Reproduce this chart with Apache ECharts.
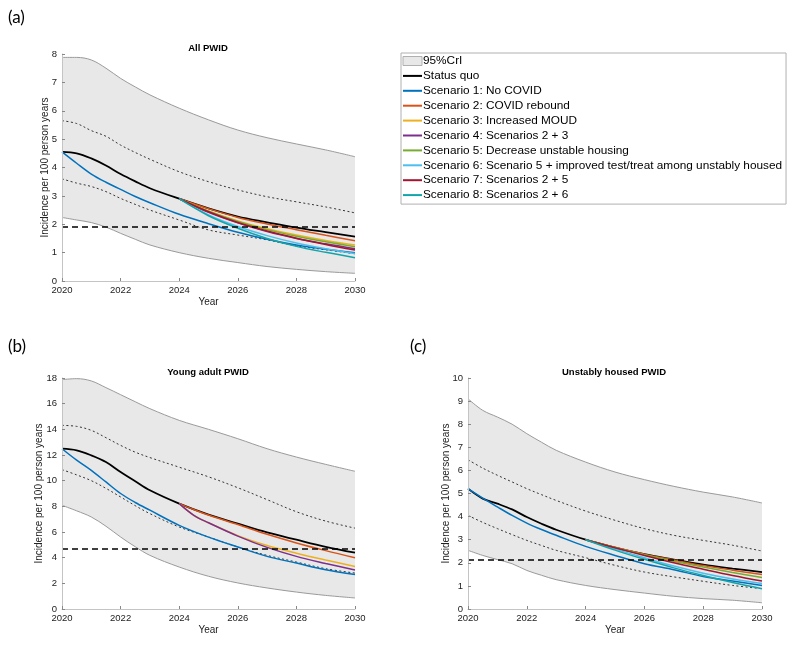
<!DOCTYPE html>
<html>
<head>
<meta charset="utf-8">
<script src="https://cdn.jsdelivr.net/npm/echarts@6/dist/echarts.min.js"></script>
<style>
  html, body { margin: 0; padding: 0; background: #fff; }
  #chart { width: 800px; height: 646px; }
</style>
</head>
<body>
<div id="chart"></div>
<script>
const years = [2020, 2020.5, 2021, 2021.5, 2022, 2022.5, 2023, 2024, 2025, 2026, 2027, 2028, 2029, 2030]
const scenYearsA = [2024, 2025, 2026, 2027, 2028, 2029, 2030]
const scenYearsB = [2024, 2024.5, 2025, 2026, 2027, 2028, 2029, 2030]
const scenYearsC = [2024, 2025, 2026, 2027, 2028, 2029, 2030]

// (a) All PWID
const upperA = [7.88, 7.88, 7.79, 7.50, 7.14, 6.84, 6.56, 6.09, 5.68, 5.32, 5.05, 4.83, 4.62, 4.38]
const lowerA = [2.24, 2.15, 2.06, 1.90, 1.68, 1.47, 1.27, 1.00, 0.80, 0.65, 0.51, 0.41, 0.33, 0.27]
const dotHiA = [5.65, 5.55, 5.30, 5.10, 4.79, 4.53, 4.29, 3.85, 3.50, 3.21, 2.97, 2.79, 2.61, 2.40]
const dotLoA = [3.60, 3.45, 3.33, 3.15, 2.91, 2.70, 2.50, 2.15, 1.80, 1.62, 1.45, 1.24, 1.10, 0.96]
const sqA = [4.55, 4.50, 4.32, 4.07, 3.77, 3.51, 3.27, 2.90, 2.56, 2.27, 2.07, 1.88, 1.72, 1.56]
const s1A = [4.55, 4.15, 3.77, 3.48, 3.23, 2.98, 2.76, 2.35, 2.02, 1.72, 1.47, 1.27, 1.12, 1.00]
const s2A = [2.90, 2.55, 2.24, 2.01, 1.81, 1.61, 1.42]
const s3A = [2.90, 2.47, 2.12, 1.84, 1.62, 1.43, 1.27]
const s4A = [2.90, 2.42, 2.05, 1.74, 1.50, 1.31, 1.14]
const s5A = [2.90, 2.46, 2.10, 1.81, 1.58, 1.38, 1.21]
const s6A = [2.90, 2.33, 1.92, 1.60, 1.34, 1.14, 0.97]
const s7A = [2.90, 2.44, 2.06, 1.76, 1.51, 1.29, 1.09]
const s8A = [2.90, 2.30, 1.86, 1.50, 1.22, 1.01, 0.82]
const targetA = 1.92

// (b) Young adult PWID
const upperB = [17.87, 17.95, 17.77, 17.25, 16.70, 16.15, 15.61, 14.70, 14.00, 13.27, 12.49, 11.84, 11.27, 10.73]
const lowerB = [8.08, 7.65, 7.17, 6.45, 5.61, 4.85, 4.18, 3.27, 2.55, 2.03, 1.64, 1.32, 1.06, 0.86]
const dotHiB = [14.31, 14.23, 13.92, 13.35, 12.75, 12.22, 11.80, 11.05, 10.30, 9.45, 8.52, 7.58, 6.85, 6.30]
const dotLoB = [10.86, 10.45, 10.00, 9.40, 8.73, 8.05, 7.43, 6.39, 5.61, 4.83, 4.18, 3.66, 3.14, 2.80]
const sqB = [12.49, 12.36, 11.97, 11.45, 10.67, 9.95, 9.25, 8.21, 7.35, 6.65, 5.97, 5.40, 4.85, 4.39]
const s1B = [12.49, 11.60, 10.80, 9.90, 9.00, 8.30, 7.70, 6.52, 5.60, 4.83, 4.10, 3.58, 3.06, 2.68]
const s2B = [8.21, 7.75, 7.32, 6.58, 5.82, 5.15, 4.55, 4.00]
const s3B = [8.21, 7.30, 6.72, 5.72, 4.95, 4.35, 3.82, 3.32]
const s4B = [8.21, 7.30, 6.72, 5.68, 4.80, 4.10, 3.55, 3.04]
const targetB = 4.68

// (c) Unstably housed PWID
const upperC = [9.10, 8.60, 8.31, 8.00, 7.59, 7.22, 6.87, 6.36, 5.93, 5.60, 5.31, 5.06, 4.85, 4.59]
const lowerC = [2.54, 2.32, 2.14, 1.96, 1.67, 1.46, 1.27, 1.02, 0.84, 0.69, 0.55, 0.45, 0.38, 0.27]
const dotHiC = [6.46, 6.10, 5.79, 5.50, 5.21, 4.95, 4.70, 4.24, 3.84, 3.48, 3.19, 2.97, 2.76, 2.51]
const dotLoC = [4.05, 3.75, 3.48, 3.22, 2.97, 2.75, 2.54, 2.22, 1.89, 1.60, 1.39, 1.20, 1.02, 0.88]
const sqC = [5.21, 4.78, 4.56, 4.31, 3.98, 3.69, 3.43, 3.00, 2.66, 2.37, 2.14, 1.92, 1.75, 1.60]
const s1C = [5.21, 4.80, 4.42, 4.05, 3.72, 3.44, 3.19, 2.71, 2.32, 1.96, 1.70, 1.41, 1.21, 1.02]
const s2C = [3.00, 2.67, 2.37, 2.12, 1.88, 1.68, 1.49]
const s5C = [3.00, 2.66, 2.35, 2.07, 1.82, 1.58, 1.36]
const s6C = [3.00, 2.60, 2.22, 1.86, 1.55, 1.30, 1.10]
const s7C = [3.00, 2.65, 2.32, 2.00, 1.72, 1.45, 1.21]
const s8C = [3.00, 2.55, 2.15, 1.78, 1.45, 1.15, 0.88]
const targetC = 2.15

const NAMES = [
  'Status quo',
  'Scenario 1: No COVID',
  'Scenario 2: COVID rebound',
  'Scenario 3: Increased MOUD',
  'Scenario 4: Scenarios 2 + 3',
  'Scenario 5: Decrease unstable housing',
  'Scenario 6: Scenario 5 + improved test/treat among unstably housed',
  'Scenario 7: Scenarios 2 + 5',
  'Scenario 8: Scenarios 2 + 6',
]
const COLORS = ['#000000', '#0072BD', '#D95319', '#EDB120', '#7E2F8E', '#77AC30', '#4DBEEE', '#A2142F', '#12A4A8']
const FONT = '"Liberation Sans", Arial, sans-serif'
const BAND_FILL = '#e8e8e8'
const BAND_EDGE = '#9a9a9a'

const zip = (xs, ys) => xs.map((x, i) => [x, ys[i]])

function line(idx, name, xs, ys, color, extra) {
  return Object.assign({
    name, type: 'line', xAxisIndex: idx, yAxisIndex: idx,
    data: zip(xs, ys), symbol: 'none', smooth: 0.35,
    lineStyle: { color, width: 1.5 }, itemStyle: { color }, silent: true,
  }, extra || {})
}

function panel(idx, p) {
  const dotted = { color: '#333', width: 1, type: [2, 2.5] }
  const out = [
    // grey band: fill under the upper edge, then white under the lower edge
    line(idx, '95%CrI', years, p.upper, BAND_EDGE, {
      lineStyle: { color: BAND_EDGE, width: 1 },
      areaStyle: { color: BAND_FILL, opacity: 1 }, itemStyle: { color: BAND_FILL },
    }),
    line(idx, 'lo' + idx, years, p.lower, BAND_EDGE, {
      lineStyle: { color: BAND_EDGE, width: 1 },
      areaStyle: { color: '#ffffff', opacity: 1 },
    }),
    line(idx, 'hi50_' + idx, years, p.dotHi, '#333', { lineStyle: dotted }),
    line(idx, 'lo50_' + idx, years, p.dotLo, '#333', { lineStyle: dotted }),
    line(idx, NAMES[0], years, p.sq, COLORS[0], { lineStyle: { color: COLORS[0], width: 1.8 } }),
    line(idx, NAMES[1], years, p.s1, COLORS[1]),
  ]
  p.scen.forEach(([k, ys]) => out.push(line(idx, NAMES[k], p.scenYears, ys, COLORS[k])))
  out.push({
    type: 'line', name: 'target' + idx, xAxisIndex: idx, yAxisIndex: idx, data: [], silent: true,
    markLine: {
      symbol: 'none', silent: true, label: { show: false },
      lineStyle: { color: '#000', width: 1.5, type: [6, 4] },
      data: [{ yAxis: p.target }],
    },
  })
  return out
}

const grids = [
  { left: 62, top: 54, width: 293, height: 227 },
  { left: 62, top: 378, width: 293, height: 231 },
  { left: 468, top: 378, width: 294, height: 231 },
]

const xAxis = grids.map((g, i) => ({
  type: 'value', gridIndex: i, min: 2020, max: 2030, interval: 2, z: 10,
  name: 'Year', nameLocation: 'middle', nameGap: 16,
  nameTextStyle: { fontSize: 10, color: '#222', fontFamily: FONT },
  axisLine: { lineStyle: { color: '#c4c4c4' } },
  axisTick: { inside: true, length: 3, lineStyle: { color: '#888' } },
  axisLabel: { fontSize: 9.5, color: '#222', margin: 4, fontFamily: FONT, formatter: v => String(v) },
  splitLine: { show: false },
}))

const yRanges = [[8, 1, 12], [18, 2, 18], [10, 1, 17]]
const yAxis = yRanges.map(([max, interval, gap], i) => ({
  type: 'value', gridIndex: i, min: 0, max, interval, z: 10,
  name: 'Incidence per 100 person years', nameLocation: 'middle', nameGap: gap, nameMoveOverlap: false,
  nameTextStyle: { fontSize: 10, color: '#222', fontFamily: FONT },
  axisLine: { show: true, lineStyle: { color: '#c4c4c4' } },
  axisTick: { show: true, inside: true, length: 3, lineStyle: { color: '#888' } },
  axisLabel: { fontSize: 9.5, color: '#222', margin: 5, fontFamily: FONT },
  splitLine: { show: false },
}))

const series = [
  ...panel(0, { upper: upperA, lower: lowerA, dotHi: dotHiA, dotLo: dotLoA, sq: sqA, s1: s1A,
    scenYears: scenYearsA, scen: [[2, s2A], [3, s3A], [4, s4A], [5, s5A], [6, s6A], [7, s7A], [8, s8A]], target: targetA }),
  ...panel(1, { upper: upperB, lower: lowerB, dotHi: dotHiB, dotLo: dotLoB, sq: sqB, s1: s1B,
    scenYears: scenYearsB, scen: [[2, s2B], [3, s3B], [4, s4B]], target: targetB }),
  ...panel(2, { upper: upperC, lower: lowerC, dotHi: dotHiC, dotLo: dotLoC, sq: sqC, s1: s1C,
    scenYears: scenYearsC, scen: [[2, s2C], [5, s5C], [6, s6C], [7, s7C], [8, s8C]], target: targetC }),
]

const titles = [['All PWID', 208, 48], ['Young adult PWID', 208, 372], ['Unstably housed PWID', 614, 372]]
const panelLabels = [['(a)', 8, 18], ['(b)', 8, 347], ['(c)', 410, 347]]

const chart = echarts.init(document.getElementById('chart'), null, { renderer: 'canvas' })
chart.setOption({
  animation: false,
  backgroundColor: '#fff',
  grid: grids,
  xAxis,
  yAxis,
  legend: {
    left: 401, top: 53, orient: 'vertical',
    padding: [2, 4, 3, 1], itemGap: 2.9, itemWidth: 19, itemHeight: 9,
    borderColor: '#b0b0b0', borderWidth: 1,
    selectedMode: false,
    itemStyle: { opacity: 0 },
    textStyle: { fontSize: 11.8, color: '#000', fontFamily: FONT, padding: [0, 0, 0, -4], lineHeight: 11.9 },
    data: [
      { name: '95%CrI', icon: 'rect', itemStyle: { opacity: 1, color: BAND_FILL, borderColor: '#b0b0b0', borderWidth: 1 } },
      ...NAMES,
    ],
  },
  graphic: [
    ...titles.map(([text, x, y]) => ({
      type: 'text', x, y, silent: true,
      style: { text, textAlign: 'center', textVerticalAlign: 'middle', fontSize: 9.5, fontWeight: 'bold', fill: '#000', fontFamily: FONT },
    })),
    ...panelLabels.map(([text, x, y]) => ({
      type: 'text', x, y, silent: true,
      style: { text, textAlign: 'left', textVerticalAlign: 'middle', fontSize: 17, fill: '#000', fontFamily: 'Lato, "Open Sans", sans-serif' },
    })),
  ],
  series,
})
</script>
</body>
</html>
